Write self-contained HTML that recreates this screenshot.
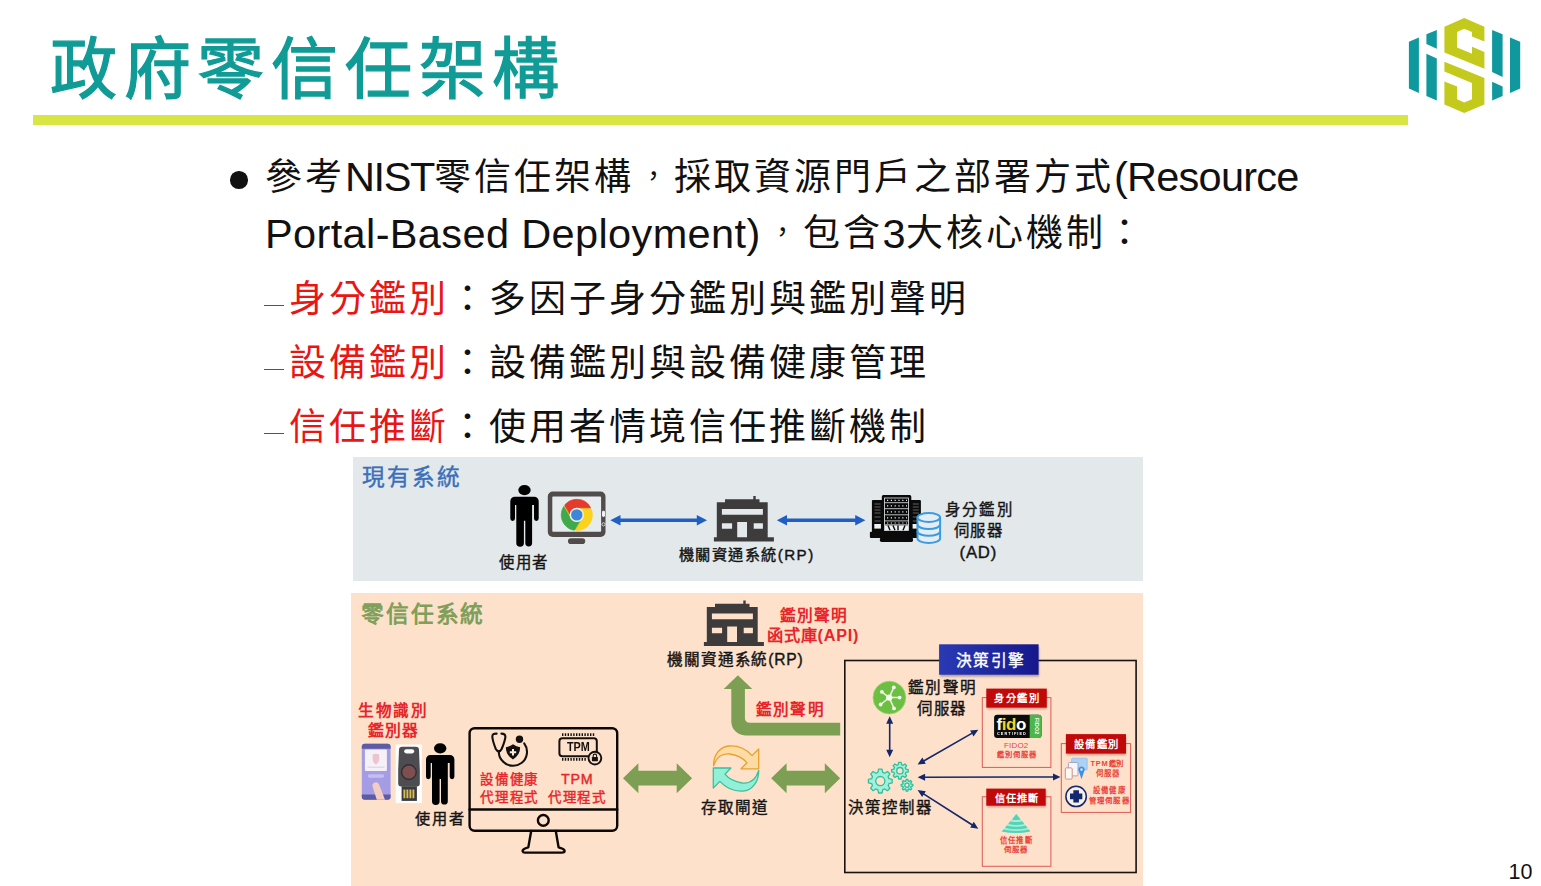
<!DOCTYPE html>
<html lang="zh-TW">
<head>
<meta charset="utf-8">
<title>政府零信任架構</title>
<style>
html,body{margin:0;padding:0;background:#fff;}
body{width:1541px;height:886px;position:relative;overflow:hidden;font-family:"Liberation Sans",sans-serif;color:#000;}
.abs{position:absolute;white-space:nowrap;}
.t{position:absolute;white-space:nowrap;line-height:1;}
#title{left:50px;top:20px;font-size:67px;font-weight:500;-webkit-text-stroke:1.3px #109b96;color:#109b96;line-height:100px;letter-spacing:6.7px;}
#rule{left:33px;top:115px;width:1375px;height:10px;background:#d9e542;}
.body{font-size:37px;line-height:56px;color:#111;letter-spacing:3px;font-weight:350;}
.red{color:#ea1515;}
.dash{display:inline-block;width:20px;height:1.4px;background:#ea1515;vertical-align:middle;margin:6px 5px 0 -1px;}
.lat{font-size:41.5px;letter-spacing:0;font-weight:400;position:relative;top:1.5px;}
.l1{letter-spacing:-1.4px;}
.l2{letter-spacing:0.37px;margin-right:2px;}
.cm{display:inline-block;width:40px;text-align:center;font-size:27px;letter-spacing:0;position:relative;top:-4px;}
.l3{letter-spacing:-0.75px;}
#bul{left:230px;top:171px;width:17.5px;height:17.5px;border-radius:50%;background:#111;}
#p1{left:353px;top:457px;width:790px;height:124px;background:#e3e9eb;}
#p2{left:351px;top:593px;width:792px;height:293px;background:#fde1cb;}
#pg{left:1508.5px;top:859.5px;font-size:21.5px;color:#111;}
</style>
</head>
<body>
<div id="title" class="abs">政府零信任架構</div>
<div id="rule" class="abs"></div>

<div class="abs" id="bul"></div>
<div class="abs body" id="l1" style="left:265px;top:147.5px;">參考<span class="lat l1">NIST</span>零信任架構<span class="cm">，</span>採取資源門戶之部署方式<span class="lat l3">(Resource</span></div>
<div class="abs body" id="l2" style="left:265px;top:204px;"><span class="lat l2">Portal-Based Deployment)</span><span class="cm">，</span>包含<span class="lat">3</span>大核心機制：</div>
<div class="abs body" id="l3" style="left:265px;top:272.2px;"><span class="red"><span class="dash"></span>身分鑑別</span>：多因子身分鑑別與鑑別聲明</div>
<div class="abs body" id="l4" style="left:265px;top:336.2px;"><span class="red"><span class="dash"></span>設備鑑別</span>：設備鑑別與設備健康管理</div>
<div class="abs body" id="l5" style="left:265px;top:400.2px;"><span class="red"><span class="dash"></span>信任推斷</span>：使用者情境信任推斷機制</div>

<div id="p1" class="abs"></div>
<div id="p2" class="abs"></div>

<svg class="abs" id="dg" style="left:0;top:0" width="1541" height="886" viewBox="0 0 1541 886">
<defs>
<!-- person pictogram: 28.4 x 61.4 box -->
<g id="person">
<ellipse cx="14.2" cy="5.1" rx="6.2" ry="5.1"/>
<path d="M4.5,11.7 H23.9 A4.5,4.5 0 0 1 28.4,16.2 V33.6 A2.35,2.35 0 0 1 23.7,33.6 V19.9 H21.8 V58 A3.4,3.4 0 0 1 15,58 V35.7 H13.6 V58 A3.8,3.8 0 0 1 6,58 V19.9 H4.7 V33.6 A2.35,2.35 0 0 1 0,33.6 V16.2 A4.5,4.5 0 0 1 4.5,11.7 Z"/>
</g>
<!-- building icon: 60 x 45.4 box -->
<g id="bldg">
<path fill="#3d3b3b" fill-rule="evenodd" d="M39.4,0 h2.4 v3.2 h3.8 v3.1 h8.2 v35 h6.2 v4.1 H0 v-4.1 h2.9 v-35 h8.2 v-3.1 h28.3 Z M8,13 v5.75 h41 V13 Z M8,27.2 v5.5 h10.2 v-5.5 Z M23.3,25.9 v15.4 h9.8 V25.9 Z M39.8,27.2 v5.5 h9.2 v-5.5 Z"/>
</g>
<marker id="mb" viewBox="0 0 10 10" refX="1" refY="5" markerWidth="4" markerHeight="4" orient="auto-start-reverse"><path d="M0,0 L10,5 L0,10 Z" fill="#1f5fc3"/></marker>
</defs>
<g id="logo">
<polygon fill="#c4ca1b" points="1464.2,18.0 1484.4,26.7 1484.4,41.6 1472.0,36.5 1472.0,31.9 1464.2,28.7 1457.1,31.9 1457.1,47.4 1472.0,53.7 1472.0,46.8 1484.4,52.0 1484.4,68.7 1444.4,52.6 1444.4,26.7"/>
<polygon fill="#c4ca1b" points="1444.4,61.8 1484.4,77.9 1484.4,104.4 1464.2,113.1 1444.4,104.4 1444.4,81.4 1457.1,86.6 1457.1,99.3 1464.2,102.5 1472.0,99.3 1472.0,83.1 1444.4,71.6"/>
<polygon fill="#0f989d" points="1408.9,41.7 1418.9,37.6 1418.9,92.9 1408.9,88.5"/>
<polygon fill="#0f989d" points="1426.4,34.2 1436.8,29.9 1436.8,48.7 1426.4,44.1"/>
<polygon fill="#0f989d" points="1426.4,53.7 1436.8,58.4 1436.8,100.4 1426.4,95.9"/>
<polygon fill="#0f989d" points="1492.1,29.9 1502.6,34.2 1502.6,77.0 1492.1,72.1"/>
<polygon fill="#0f989d" points="1492.1,81.8 1502.6,86.4 1502.6,95.9 1492.1,100.4"/>
<polygon fill="#0f989d" points="1510.0,37.6 1520.2,41.7 1520.2,88.5 1510.0,92.9"/>
</g>
<g id="panel1">
<!-- user -->
<use href="#person" x="510.3" y="485" fill="#000"/>
<!-- monitor with chrome -->
<rect x="547.8" y="491.5" width="57.7" height="45.4" rx="5" fill="#514b4c"/>
<rect x="552.3" y="496.6" width="48.8" height="35.2" rx="0.8" fill="#e6ebee"/>
<rect x="568" y="538.3" width="17.2" height="5.7" rx="2.8" fill="#514b4c"/>
<rect x="602" y="510.8" width="3" height="6.2" rx="1.4" fill="#f2f2f2"/>
<circle cx="603.5" cy="524.3" r="1.6" fill="none" stroke="#e8e8e8" stroke-width="0.8"/>
<g transform="translate(561.2,499.3) scale(1.3)">
<circle cx="12" cy="12" r="11.6" fill="#e9c63a"/>
<path fill="#e33b2e" stroke="#e33b2e" stroke-width=".5" d="M12 0C8.21 0 4.831 1.757 2.632 4.501l3.953 6.848A5.454 5.454 0 0 1 12 6.545h10.691A12 12 0 0 0 12 0z"/>
<path fill="#3faa4a" stroke="#3faa4a" stroke-width=".5" d="M1.931 5.47A11.943 11.943 0 0 0 0 12c0 6.012 4.42 10.991 10.189 11.864l3.953-6.847a5.45 5.45 0 0 1-6.865-2.29z"/>
<path fill="#fbd21c" stroke="#fbd21c" stroke-width=".5" d="M15.273 7.636a5.446 5.446 0 0 1 1.45 7.09l.002.001h-.002l-5.344 9.257c.206.01.413.016.621.016 6.627 0 12-5.373 12-12 0-1.54-.29-3.011-.818-4.364z"/>
<circle cx="12" cy="12" r="5.5" fill="#eef3f4"/>
<circle cx="12" cy="12" r="4.4" fill="#3f86d8"/>
</g>
<!-- arrows -->
<path fill="#1f5fc3" d="M610.3,520.2 l10.2,-5.2 v3.5 h76.3 v-3.5 l10.2,5.2 l-10.2,5.2 v-3.5 h-76.3 v3.5 Z"/>
<path fill="#1f5fc3" d="M776.8,520.3 l10.2,-5.2 v3.5 h68.2 v-3.5 l10.2,5.2 l-10.2,5.2 v-3.5 h-68.2 v3.5 Z"/>
<!-- building -->
<use href="#bldg" x="713.9" y="496"/>
<!-- server rack -->
<g fill="#0a0a0a">
<rect x="871.9" y="499.9" width="11" height="32.5" rx="1"/>
<rect x="910.3" y="499.9" width="10.6" height="32.5" rx="1"/>
<rect x="881.8" y="495.1" width="29.5" height="37.5" rx="1.6"/>
<rect x="869.9" y="531.7" width="53" height="6.4" rx="1"/>
<rect x="879.9" y="537.5" width="33.1" height="4.4" rx="1.6"/>
</g>
<g fill="none" stroke="#e9ecee" stroke-width="0.8">
<rect x="884.6" y="498" width="24" height="32.4"/>
<path d="M884.6,502.7h24 M884.6,508.7h24 M884.6,514.8h24 M884.6,520.9h24 M884.6,524.8h24"/>
<path stroke-width="1.2" stroke-dasharray="1.2 2.6" d="M887,500.4h20 M887,505.8h20 M887,511.8h20 M887,517.9h20 M887,523h20"/>
<path stroke="#9a9c9e" stroke-width="0.6" d="M874.5,504h6 M874.5,507h6 M874.5,510h6 M874.5,513h6 M874.5,517h6 M874.5,521h6 M912.8,504h6 M912.8,507h6 M912.8,510h6 M912.8,513h6 M912.8,517h6 M912.8,521h6"/>
</g>
<rect x="885" y="525.4" width="23.2" height="4.8" fill="#f0f2f3"/>
<path d="M888,525.4l2,4.8 M893,525.4l2,4.8 M898,525.4v4.8 M903,530.2l2,-4.8" stroke="#0a0a0a" stroke-width="1.4" fill="none"/>
<rect x="874.3" y="524" width="6.6" height="4.6" fill="#f0f2f3"/>
<rect x="912.6" y="524" width="6.6" height="4.6" fill="#f0f2f3"/>
<!-- database -->
<g stroke="#3a9be0" stroke-width="2" fill="#e4edf3">
<path d="M917.5,517.5 v21 a11.3,4.4 0 0 0 22.6,0 v-21"/>
<path fill="none" d="M917.5,524.6 a11.3,4.4 0 0 0 22.6,0 M917.5,531.4 a11.3,4.4 0 0 0 22.6,0"/>
<ellipse cx="928.8" cy="517.5" rx="11.3" ry="4.4"/>
</g>
</g>
<g id="panel2a">
<!-- phone -->
<rect x="361.8" y="743.8" width="28.8" height="55.9" rx="3" fill="#a49ce4"/>
<path d="M364.8,743.8 h22.8 a3,3 0 0 1 3,3 v2 h-28.8 v-2 a3,3 0 0 1 3,-3 Z" fill="#5d5aa6"/>
<path d="M361.8,794.5 h28.8 v2.2 a3,3 0 0 1 -3,3 h-22.8 a3,3 0 0 1 -3,-3 Z" fill="#5d5aa6"/>
<rect x="364.9" y="749.4" width="22" height="21.6" rx="1" fill="#f6f1f6"/>
<path d="M372.6,754.6 q3.3,-1.6 6.6,0 v4.6 q0,3.6 -3.3,5.2 q-3.3,-1.6 -3.3,-5.2 Z" fill="#ecc3cf"/>
<rect x="367.5" y="766.6" width="17" height="1.3" fill="#dcd6ec"/>
<rect x="367.8" y="774.2" width="16.4" height="3.6" rx="1.8" fill="#c4bef0"/>
<path d="M372.6,786.5 a3.4,3.4 0 0 1 6.4,-2.2 l6,15.4 h-8.2 Z" fill="#f3cdbf"/>
<!-- security key -->
<rect x="395.7" y="744.5" width="26.2" height="58.6" fill="#fdfdfd"/>
<path d="M402.2,746.8 h13.6 a3.2,3.2 0 0 1 3.2,3.2 l0.8,20 v13.5 a3,3 0 0 1 -3,3 h-15.6 a3,3 0 0 1 -3,-3 v-13.5 l0.8,-20 a3.2,3.2 0 0 1 3.2,-3.2 Z" fill="#4c4c51"/>
<rect x="404.2" y="749.2" width="10" height="4.2" rx="2.1" fill="#fdfdfd"/>
<circle cx="408.9" cy="772.1" r="8" fill="#2f2f33"/>
<circle cx="408.9" cy="772.1" r="6.6" fill="#7d4f50"/>
<rect x="401.6" y="786.3" width="15.3" height="14.6" fill="#3a3a3c"/>
<path d="M404.4,789.6 v8.6 M407.4,789.6 v8.6 M410.4,789.6 v8.6 M413.4,789.6 v8.6" stroke="#d9bd55" stroke-width="1.9" fill="none"/>
<!-- user -->
<use href="#person" x="426" y="743.2" fill="#000"/>
<!-- monitor outline -->
<g fill="none" stroke="#0c0806" stroke-width="2.4" stroke-linejoin="round" stroke-linecap="round">
<rect x="469.6" y="728.2" width="147.6" height="102.6" rx="5"/>
<path d="M469.6,809.5 H617.2"/>
<circle cx="543.3" cy="820.4" r="5.4"/>
<path d="M531.2,831 L528.3,847.4 Q522,849 522.6,851.2 Q523,852.6 525,852.6 H562 Q564.6,852.6 564.6,851 Q564.6,849 558.6,847.4 L555.8,831"/>
</g>
<!-- stethoscope -->
<g fill="none" stroke="#14100e" stroke-width="2.1" stroke-linecap="round" stroke-linejoin="round">
<path d="M496.6,733.6 Q492.4,733.4 492.3,736.5 Q492.6,741 495.8,749 Q497,751.2 498.8,751.4 Q500.6,751.2 501.6,749 Q505,741 505.4,736.8 Q505.4,733.6 501.4,733.6"/>
<path d="M498.8,751.6 Q498.8,757 501.8,760.2 A13.4,13.4 0 0 0 524.2,743.4"/>
</g>
<circle cx="519.5" cy="739.2" r="3.7" fill="#14100e"/>
<path d="M505.9,747.2 Q509.5,746.6 513,744.2 Q516.5,746.6 520.1,747.2 Q520.4,755 513,759.4 Q505.6,755 505.9,747.2 Z" fill="#14100e"/>
<path d="M513,749 v6.4 M509.8,752.2 h6.4" stroke="#fbe9dc" stroke-width="2" fill="none"/>
<!-- TPM chip -->
<path d="M562,734.6 h33.6 M562,759.4 h24.6" stroke="#14100e" stroke-width="2.6" stroke-dasharray="1.4 1.4" fill="none"/>
<rect x="559.4" y="738.2" width="37.4" height="18" rx="3" fill="none" stroke="#14100e" stroke-width="2"/>
<circle cx="594.9" cy="758.1" r="6.4" fill="#fde0c9" stroke="#14100e" stroke-width="1.9"/>
<rect x="591.9" y="757" width="6" height="4.2" rx="0.6" fill="#14100e"/>
<path d="M593.2,757 v-1.2 a1.7,1.7 0 0 1 3.4,0 v1.2" stroke="#14100e" stroke-width="1.1" fill="none"/>
<!-- green arrows -->
<g fill="#7c9f54">
<path d="M623,778.2 l15.4,-15 v7.6 h38.3 v-7.6 l15.4,15 l-15.4,15 v-7.6 h-38.3 v7.6 Z"/>
<path d="M771.2,778.2 l15.4,-15 v7.6 h38.2 v-7.6 l15.4,15 l-15.4,15 v-7.6 h-38.2 v7.6 Z"/>
<path d="M737.9,675.3 L752.3,689 H744.9 V718.2 A4.5,4.5 0 0 0 749.4,722.7 H840.2 V735.4 H745.3 A14,14 0 0 1 731.3,721.4 V689 H723.7 Z"/>
</g>
<!-- gateway icon -->
<path d="M713.6,765.8 C713.4,756 719,746.6 729.4,746 C738.6,745.6 746.6,749.6 752.1,755.6 L758.7,749 V768.8 H741.1 L747,762.8 C743.6,758.6 737.6,755.2 730,754 C722.6,753.2 716.6,756.4 713.6,765.8 Z" fill="#fcdca4" stroke="#e8a12c" stroke-width="1.3" stroke-linejoin="round"/>
<path d="M758.7,770.4 C758.9,780.6 753,790.4 742.6,791.1 C733.4,791.5 725.4,787.4 719.9,781.4 L713.3,788 V768 H730.9 L725,774.2 C728.4,778.4 734.4,781.8 742,783 C749.4,783.8 755.6,780.4 758.7,770.4 Z" fill="#92f0d9" stroke="#3dbf9a" stroke-width="1.3" stroke-linejoin="round"/>
<!-- building -->
<use href="#bldg" x="703.9" y="600.6"/>
</g>
<g id="panel2b">
<defs>
<linearGradient id="bl" x1="0" y1="0" x2="1" y2="0"><stop offset="0" stop-color="#2a3ab4"/><stop offset="1" stop-color="#16188c"/></linearGradient>
<filter id="sh" x="-10%" y="-10%" width="120%" height="140%"><feGaussianBlur stdDeviation="0.9"/></filter>
</defs>
<!-- decision box -->
<rect x="844.8" y="660.5" width="291.3" height="212" fill="none" stroke="#181210" stroke-width="1.6"/>
<rect x="940" y="646.5" width="99" height="30" fill="#40407a" opacity="0.45" filter="url(#sh)"/>
<rect x="939.1" y="644.3" width="99.5" height="30.4" fill="url(#bl)"/>
<!-- hub -->
<circle cx="889.4" cy="697.6" r="16.4" fill="#6cbf43" stroke="#9ad873" stroke-width="0.8"/>
<g stroke="#eaf6de" stroke-width="1.5" fill="#f4fbee">
<path d="M889.2,697.6 L893.8,687.4 M889.2,697.6 L899.6,697.6 M889.2,697.6 L894,708.4 M889.2,697.6 L880.6,704.5 M889.2,697.6 L881.8,691.8" fill="none"/>
<circle cx="889.2" cy="697.6" r="3.2" stroke="none"/>
<circle cx="893.8" cy="687.4" r="1.9" stroke="none"/><circle cx="899.6" cy="697.6" r="1.9" stroke="none"/><circle cx="894" cy="708.4" r="1.9" stroke="none"/><circle cx="880.6" cy="704.5" r="1.9" stroke="none"/><circle cx="881.8" cy="691.8" r="1.9" stroke="none"/>
</g>
<!-- red boxes -->
<g fill="none" stroke="#de5a52" stroke-width="1">
<rect x="982.3" y="697.6" width="68.6" height="69.8"/>
<rect x="982.3" y="796.8" width="68.6" height="69.5"/>
<rect x="1061.3" y="743.6" width="69.3" height="68.8"/>
</g>
<g fill="#7a1010" opacity="0.35" filter="url(#sh)">
<rect x="987" y="690.5" width="60" height="18.6"/><rect x="987" y="790.3" width="59" height="16.8"/><rect x="1066.5" y="736" width="59.5" height="19"/>
</g>
<g fill="#c00a0a">
<rect x="986.3" y="688.6" width="60.5" height="19"/>
<rect x="986.3" y="788.6" width="59.4" height="17.1"/>
<rect x="1065.9" y="734.1" width="60.1" height="19.5"/>
</g>
<!-- fido -->
<rect x="994.1" y="714.8" width="47.4" height="23.1" rx="3" fill="#0b0b0b"/>
<path d="M1029.7,714.8 h8.8 a3,3 0 0 1 3,3 v17.1 a3,3 0 0 1 -3,3 h-8.8 Z" fill="#4cb748"/>
<!-- devices icon -->
<rect x="1071.6" y="758.2" width="15.6" height="11.8" rx="0.8" fill="#a9d2f6" stroke="#7fb6ea" stroke-width="0.6"/>
<rect x="1068.4" y="762.5" width="9.6" height="13.4" rx="1" fill="#f6f6fa" stroke="#a9a3c4" stroke-width="1"/>
<rect x="1065.3" y="767.9" width="6.9" height="11.2" rx="1" fill="#fbf7f4" stroke="#cf957c" stroke-width="1"/>
<path d="M1081.5,779.3 L1078.9,771.4 A3.1,3.1 0 1 1 1084.1,771.4 Z" fill="#3f8fe2"/>
<circle cx="1081.5" cy="769.6" r="1.3" fill="#cfe4f8"/>
<!-- plus circle -->
<circle cx="1076.1" cy="796.4" r="10.2" fill="#fbeee4" stroke="#12296e" stroke-width="1.5"/>
<path d="M1070,796.4 h12.3 M1076.15,790.3 v12.2" stroke="#12296e" stroke-width="5.6" fill="none"/>
<!-- pyramid -->
<g>
<path d="M1016.3,814.1 L1030,831.2 Q1016,834 1001.8,831.2 Z" fill="#a4eedc"/>
<path d="M1016.3,814.1 L1020.6,819.4 Q1016.3,820.6 1012,819.4 Z" fill="#56d2b4"/>
<path d="M1010.4,821.2 Q1016.3,823 1022.2,821.2 L1024.4,824 Q1016.3,826 1008.2,824 Z" fill="#56d2b4"/>
<path d="M1006.8,825.6 Q1016.3,828 1025.8,825.6 L1027.6,828 Q1016.3,830.4 1005,828 Z" fill="#56d2b4"/>
<path d="M1003.4,829.6 Q1016.3,832.4 1029.2,829.6 L1030.2,831.4 Q1016.3,834.4 1001.6,831.4 Z" fill="#56d2b4"/>
</g>
</g>
<g id="gears" fill="#a0f0dd" stroke="#2fbf9b" stroke-width="1.3" stroke-linejoin="round" fill-rule="evenodd">
<path d="M888.96,778.66 L892.18,779.41 L892.18,782.79 L888.96,783.54 L888.15,785.50 L889.90,788.31 L887.51,790.70 L884.70,788.95 L882.74,789.76 L881.99,792.98 L878.61,792.98 L877.86,789.76 L875.90,788.95 L873.09,790.70 L870.70,788.31 L872.45,785.50 L871.64,783.54 L868.42,782.79 L868.42,779.41 L871.64,778.66 L872.45,776.70 L870.70,773.89 L873.09,771.50 L875.90,773.25 L877.86,772.44 L878.61,769.22 L881.99,769.22 L882.74,772.44 L884.70,773.25 L887.51,771.50 L889.90,773.89 L888.15,776.70 Z M875.70,781.10 a4.60,4.60 0 1 0 9.20,0 a4.60,4.60 0 1 0 -9.20,0 Z"/>
<path d="M905.87,769.02 L908.22,769.52 L908.22,771.88 L905.87,772.38 L905.31,773.73 L906.62,775.74 L904.94,777.42 L902.93,776.11 L901.58,776.67 L901.08,779.02 L898.72,779.02 L898.22,776.67 L896.87,776.11 L894.86,777.42 L893.18,775.74 L894.49,773.73 L893.93,772.38 L891.58,771.88 L891.58,769.52 L893.93,769.02 L894.49,767.67 L893.18,765.66 L894.86,763.98 L896.87,765.29 L898.22,764.73 L898.72,762.38 L901.08,762.38 L901.58,764.73 L902.93,765.29 L904.94,763.98 L906.62,765.66 L905.31,767.67 Z M896.70,770.70 a3.20,3.20 0 1 0 6.40,0 a3.20,3.20 0 1 0 -6.40,0 Z"/>
<path d="M911.14,784.03 L912.84,784.37 L912.84,786.03 L911.14,786.37 L910.75,787.30 L911.72,788.74 L910.54,789.92 L909.10,788.95 L908.17,789.34 L907.83,791.04 L906.17,791.04 L905.83,789.34 L904.90,788.95 L903.46,789.92 L902.28,788.74 L903.25,787.30 L902.86,786.37 L901.16,786.03 L901.16,784.37 L902.86,784.03 L903.25,783.10 L902.28,781.66 L903.46,780.48 L904.90,781.45 L905.83,781.06 L906.17,779.36 L907.83,779.36 L908.17,781.06 L909.10,781.45 L910.54,780.48 L911.72,781.66 L910.75,783.10 Z M904.90,785.20 a2.10,2.10 0 1 0 4.20,0 a2.10,2.10 0 1 0 -4.20,0 Z"/>
</g>
<g id="navy">
<polygon fill="#14286a" points="889.7,716.2 886.2,723.7 888.9,723.7 888.9,749.8 886.2,749.8 889.7,757.3 893.2,749.8 890.5,749.8 890.5,723.7 893.2,723.7"/>
<polygon fill="#14286a" points="917.6,764.4 925.8,763.7 924.5,761.4 972.2,734.1 973.5,736.5 978.3,729.7 970.1,730.4 971.4,732.7 923.7,760.0 922.4,757.6"/>
<polygon fill="#14286a" points="917.6,777.2 925.1,780.7 925.1,778.0 1053.0,777.8 1053.0,780.5 1060.5,777.0 1053.0,773.5 1053.0,776.2 925.1,776.4 925.1,773.7"/>
<polygon fill="#14286a" points="917.6,790.1 922.1,797.1 923.5,794.8 971.5,825.4 970.1,827.6 978.3,828.7 973.8,821.7 972.4,824.0 924.4,793.4 925.8,791.2"/>
</g>

</svg>

<div class="t" style="left:362.2px;top:467.2px;font-size:22.62px;letter-spacing:2.00px;font-weight:500;-webkit-text-stroke:0.4px;color:#3b6fba">現有系統</div>
<div class="t" style="left:498.7px;top:554.6px;font-size:15.37px;letter-spacing:1.88px;font-weight:500;-webkit-text-stroke:0.4px;color:#151515">使用者</div>
<div class="t" style="left:678.9px;top:546.9px;font-size:15.17px;letter-spacing:1.46px;font-weight:500;-webkit-text-stroke:0.4px;color:#151515">機關資通系統(RP)</div>
<div class="t" style="left:944.7px;top:502.4px;font-size:15.38px;letter-spacing:2.32px;font-weight:500;-webkit-text-stroke:0.4px;color:#151515">身分鑑別</div>
<div class="t" style="left:953.6px;top:523.2px;font-size:15.37px;letter-spacing:1.75px;font-weight:500;-webkit-text-stroke:0.4px;color:#151515">伺服器</div>
<div class="t" style="left:959.6px;top:544.8px;font-size:16.73px;letter-spacing:0.78px;font-weight:500;-webkit-text-stroke:0.4px;color:#151515">(AD)</div>
<div class="t" style="left:360.7px;top:603.4px;font-size:22.69px;letter-spacing:1.94px;font-weight:700;color:#7f9f5a">零信任系統</div>
<div class="t" style="left:358.0px;top:703.3px;font-size:15.59px;letter-spacing:1.50px;font-weight:700;color:#e8252a">生物識別</div>
<div class="t" style="left:367.6px;top:723.3px;font-size:15.81px;letter-spacing:1.15px;font-weight:700;color:#e8252a">鑑別器</div>
<div class="t" style="left:415.2px;top:811.1px;font-size:15.18px;letter-spacing:1.78px;font-weight:500;-webkit-text-stroke:0.4px;color:#151515">使用者</div>
<div class="t" style="left:479.7px;top:772.7px;font-size:13.48px;letter-spacing:1.92px;font-weight:500;-webkit-text-stroke:0.4px;color:#e8252a">設備健康</div>
<div class="t" style="left:480.0px;top:790.9px;font-size:13.48px;letter-spacing:1.75px;font-weight:500;-webkit-text-stroke:0.4px;color:#e8252a">代理程式</div>
<div class="t" style="left:560.9px;top:771.5px;font-size:14.29px;letter-spacing:0.85px;font-weight:500;-webkit-text-stroke:0.4px;color:#e8252a">TPM</div>
<div class="t" style="left:548.0px;top:790.9px;font-size:13.43px;letter-spacing:1.70px;font-weight:500;-webkit-text-stroke:0.4px;color:#e8252a">代理程式</div>
<div class="t" style="left:667.4px;top:652.2px;font-size:15.58px;letter-spacing:0.80px;font-weight:500;-webkit-text-stroke:0.4px;color:#151515">機關資通系統(RP)</div>
<div class="t" style="left:779.6px;top:607.5px;font-size:15.68px;letter-spacing:1.27px;font-weight:700;color:#e8252a">鑑別聲明</div>
<div class="t" style="left:767.1px;top:626.8px;font-size:16.22px;letter-spacing:0.79px;font-weight:700;color:#e8252a">函式庫(API)</div>
<div class="t" style="left:756.0px;top:702.2px;font-size:15.54px;letter-spacing:1.20px;font-weight:700;color:#e8252a">鑑別聲明</div>
<div class="t" style="left:701.4px;top:799.6px;font-size:15.54px;letter-spacing:1.03px;font-weight:500;-webkit-text-stroke:0.4px;color:#151515">存取閘道</div>
<div class="t" style="left:955.9px;top:653.2px;font-size:15.70px;letter-spacing:1.33px;font-weight:500;-webkit-text-stroke:0.4px;color:#ffffff">決策引擎</div>
<div class="t" style="left:907.9px;top:680.1px;font-size:15.59px;letter-spacing:1.33px;font-weight:500;-webkit-text-stroke:0.4px;color:#151515">鑑別聲明</div>
<div class="t" style="left:916.8px;top:701.3px;font-size:15.43px;letter-spacing:1.83px;font-weight:500;-webkit-text-stroke:0.4px;color:#151515">伺服器</div>
<div class="t" style="left:848.4px;top:799.6px;font-size:15.36px;letter-spacing:1.99px;font-weight:500;-webkit-text-stroke:0.4px;color:#151515">決策控制器</div>
<div class="t" style="left:994.4px;top:693.7px;font-size:10.29px;letter-spacing:1.52px;font-weight:700;color:#ffffff">身分鑑別</div>
<div class="t" style="left:1073.8px;top:739.9px;font-size:10.29px;letter-spacing:1.43px;font-weight:700;color:#ffffff">設備鑑別</div>
<div class="t" style="left:994.7px;top:794.3px;font-size:10.24px;letter-spacing:1.22px;font-weight:700;color:#ffffff">信任推斷</div>
<div class="t" style="left:1003.9px;top:741.5px;font-size:7.91px;letter-spacing:0.25px;font-weight:400;color:#e8443a">FIDO2</div>
<div class="t" style="left:996.6px;top:750.5px;font-size:7.27px;letter-spacing:0.99px;font-weight:700;color:#e8443a">鑑別伺服器</div>
<div class="t" style="left:1090.4px;top:760.3px;font-size:7.33px;letter-spacing:0.91px;font-weight:700;color:#e8443a">TPM鑑別</div>
<div class="t" style="left:1095.6px;top:769.6px;font-size:7.42px;letter-spacing:1.02px;font-weight:700;color:#e8443a">伺服器</div>
<div class="t" style="left:1093.1px;top:787.3px;font-size:7.41px;letter-spacing:1.15px;font-weight:700;color:#e8443a">設備健康</div>
<div class="t" style="left:1089.3px;top:797.0px;font-size:7.35px;letter-spacing:1.06px;font-weight:700;color:#e8443a">管理伺服器</div>
<div class="t" style="left:1000.3px;top:837.1px;font-size:7.41px;letter-spacing:1.07px;font-weight:700;color:#e8443a">信任推斷</div>
<div class="t" style="left:1003.8px;top:846.0px;font-size:7.38px;letter-spacing:1.05px;font-weight:700;color:#e8443a">伺服器</div>
<div class="t" style="left:566.6px;top:740.3px;font-size:13.2px;font-weight:700;color:#14100e;transform:scaleX(.82);transform-origin:0 0;">TPM</div>
<div class="t" style="left:996.6px;top:715.6px;font-size:17px;font-weight:700;color:#fff;letter-spacing:-0.5px;">f<span style="color:#f5d327">i</span><span style="color:#f5d327">d</span>o</div>
<div class="t" style="left:997.4px;top:731.6px;font-size:7.6px;font-weight:700;color:#fff;letter-spacing:2.2px;transform:scale(.5);transform-origin:0 0;">CERTIFIED</div>
<div class="t" style="left:1038.7px;top:717.6px;font-size:5.2px;font-weight:700;color:#fff;letter-spacing:0.2px;transform:rotate(90deg);transform-origin:0 0;">FIDO2</div>

<div id="pg" class="abs">10</div>
</body>
</html>
